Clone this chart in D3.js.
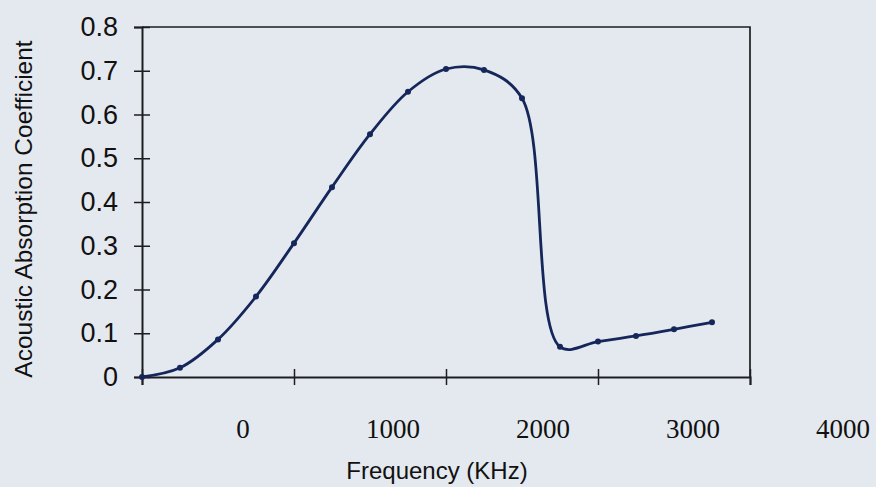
<!DOCTYPE html>
<html>
<head>
<meta charset="utf-8">
<script src="https://cdn.jsdelivr.net/npm/d3@7"></script>
<style>
  html, body { margin: 0; padding: 0; background: #e4e8ef; }
  svg { display: block; }
</style>
</head>
<body>
<script>
// Frequency samples (KHz) and measured absorption coefficients
const frequencies = [0, 250, 500, 750, 1000, 1250, 1500, 1750, 2000, 2250, 2500, 2750, 3000, 3250, 3500, 3750];
const absorption = [0, 0.021, 0.086, 0.184, 0.306, 0.434, 0.555, 0.652, 0.704, 0.702, 0.637, 0.069, 0.081, 0.094, 0.109, 0.125];
const xTickValues = [0, 1000, 2000, 3000, 4000];
const yTickValues = [0, 0.1, 0.2, 0.3, 0.4, 0.5, 0.6, 0.7, 0.8];

const W = 876, H = 487;
const plot = { left: 142, right: 750, top: 27, bottom: 377 };

const svg = d3.select("body").append("svg").attr("width", W).attr("height", H);

svg.append("rect").attr("width", W).attr("height", H).attr("fill", "#e4e8ef");

const x = d3.scaleLinear().domain([0, 4000]).range([plot.left, plot.right]);
const y = d3.scaleLinear().domain([0, 0.8]).range([plot.bottom, plot.top]);
// tick captions sit in their own band below the axis
const xLabel = d3.scaleLinear().domain([0, 4000]).range([243, 843]);

const axisColor = "#1c1f22";
const textColor = "#111";

// frame: top and right edges
svg.append("path")
  .attr("d", `M${plot.left},${plot.top}H${plot.right}V${plot.bottom}`)
  .attr("fill", "none").attr("stroke", axisColor).attr("stroke-width", 1.7);

// y axis with ticks crossing the line
const yAxis = svg.append("g")
  .attr("transform", `translate(${plot.left},0)`)
  .call(d3.axisLeft(y).tickValues(yTickValues).tickSize(8).tickPadding(16)
    .tickFormat(d => d === 0 ? "0" : d3.format(".1f")(d)));
yAxis.select(".domain").attr("stroke", axisColor).attr("stroke-width", 2);
yAxis.selectAll(".tick line").attr("stroke", axisColor).attr("stroke-width", 1.5)
  .attr("x1", 8).attr("x2", -8);
yAxis.selectAll(".tick text")
  .attr("font-family", "'Liberation Sans', Arial, sans-serif")
  .attr("font-size", 27).attr("fill", textColor);

// x axis with ticks crossing the line, captions drawn separately
const xAxis = svg.append("g")
  .attr("transform", `translate(0,${plot.bottom})`)
  .call(d3.axisBottom(x).tickValues(xTickValues).tickSize(8).tickFormat(""));
xAxis.select(".domain").attr("stroke", axisColor).attr("stroke-width", 2);
xAxis.selectAll(".tick line").attr("stroke", axisColor).attr("stroke-width", 1.5)
  .attr("y1", -8).attr("y2", 8);

svg.append("g").selectAll("text")
  .data(xTickValues)
  .join("text")
  .attr("x", d => xLabel(d))
  .attr("y", 438)
  .attr("text-anchor", "middle")
  .attr("font-family", "'Liberation Serif', 'Times New Roman', serif")
  .attr("font-size", 27)
  .attr("fill", textColor)
  .text(d => d);

// axis titles
svg.append("text")
  .attr("x", 437).attr("y", 479)
  .attr("text-anchor", "middle")
  .attr("font-family", "'Liberation Sans', Arial, sans-serif")
  .attr("font-size", 24).attr("fill", textColor)
  .text("Frequency (KHz)");

svg.append("text")
  .attr("transform", "translate(32,209) rotate(-90)")
  .attr("text-anchor", "middle")
  .attr("font-family", "'Liberation Sans', Arial, sans-serif")
  .attr("font-size", 24.5).attr("fill", textColor)
  .text("Acoustic Absorption Coefficient");

// smoothed absorption curve
const pts = frequencies.map((f, i) => [f, absorption[i]]);
const lineColor = "#15275a";

svg.append("path")
  .datum(pts)
  .attr("fill", "none")
  .attr("stroke", lineColor)
  .attr("stroke-width", 2.8)
  .attr("stroke-linejoin", "round")
  .attr("d", d3.line().x(d => x(d[0])).y(d => y(d[1])).curve(d3.curveCatmullRom.alpha(0.5)));

svg.append("g").selectAll("circle")
  .data(pts)
  .join("circle")
  .attr("cx", d => x(d[0]))
  .attr("cy", d => y(d[1]))
  .attr("r", 3)
  .attr("fill", lineColor);
</script>
</body>
</html>
